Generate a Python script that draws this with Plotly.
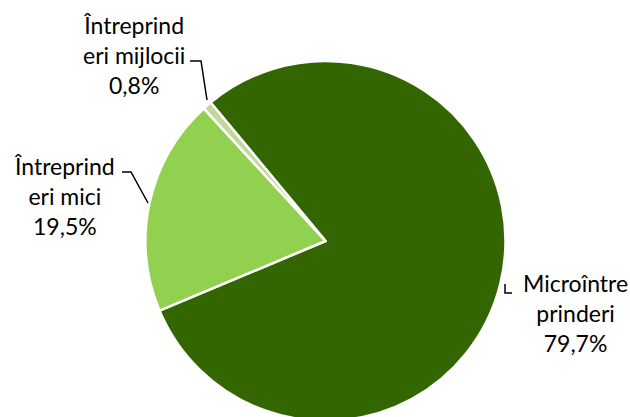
import plotly.graph_objects as go

categories = ["Microîntreprinderi", "Întreprinderi mici", "Întreprinderi mijlocii"]
values = [79.7, 19.5, 0.8]
label_texts = ["Microîntre<br>prinderi", "Întreprind<br>eri mici", "Întreprind<br>eri mijlocii"]
colors = ["#336600", "#92D050", "#C3D69B"]

W, H = 630, 421

def px(x):
    return x / W

def py(y):
    return 1 - y / H

def fmt(v):
    return f"{v:.1f}".replace(".", ",") + "%"

fig = go.Figure(go.Pie(
    labels=categories,
    values=values,
    sort=False,
    direction="clockwise",
    rotation=-39.7,
    marker=dict(colors=colors, line=dict(color="white", width=2.5)),
    textinfo="none",
    hoverinfo="label+percent",
    showlegend=False,
    domain=dict(x=[px(145.5), px(505.5)], y=[py(421), py(61)]),
))

label_pos = [(575, 313), (64, 196), (134, 55)]
for txt, v, (x, y) in zip(label_texts, values, label_pos):
    fig.add_annotation(
        x=px(x), y=py(y), xref="paper", yref="paper",
        text=f"{txt}<br>{fmt(v)}", showarrow=False,
        xanchor="center", yanchor="middle", align="center",
        font=dict(family="Lato", size=23, color="#000000"),
    )

leaders = [
    [(505, 284), (505, 293), (512, 293)],
    [(122, 172), (131, 172), (148, 203)],
    [(190, 61), (201, 61), (207, 100)],
]
for pts in leaders:
    path = "M " + " L ".join(f"{px(a)},{py(b)}" for a, b in pts)
    fig.add_shape(type="path", path=path, xref="paper", yref="paper",
                  line=dict(color="#000000", width=1.5))

fig.update_layout(
    width=W, height=H,
    margin=dict(l=0, r=0, t=0, b=0),
    paper_bgcolor="white",
    plot_bgcolor="white",
)

fig.write_html(
    "out.html",
    config={"displayModeBar": False},
    post_script="document.body.style.margin='0';document.body.style.overflow='hidden';",
)
